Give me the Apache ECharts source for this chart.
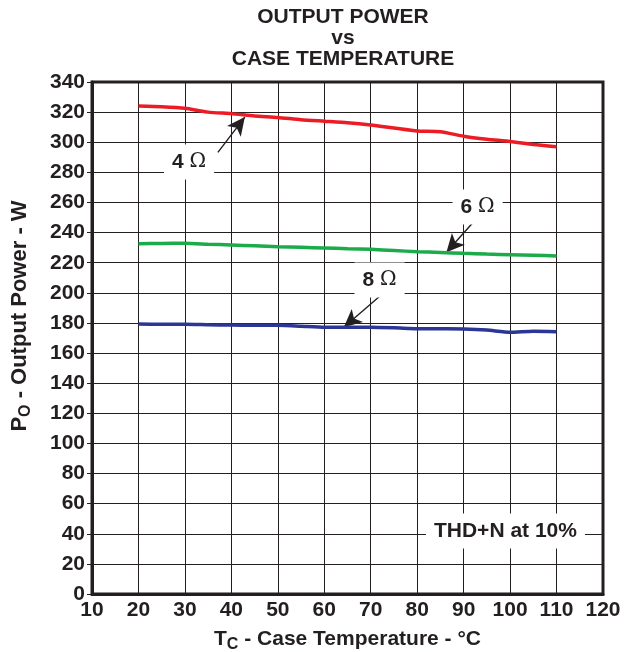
<!DOCTYPE html>
<html>
<head>
<meta charset="utf-8">
<script src="https://cdn.jsdelivr.net/npm/echarts@6/dist/echarts.min.js"></script>
<style>html,body{margin:0;padding:0;background:#fff;}#c{width:633px;height:652px;}</style>
</head>
<body>
<div id="c"></div>
<script>
// Case temperature (°C)
var temps = [20,25,30,35,40,45,50,55,60,65,70,75,80,85,90,95,100,105,110];
// Output power (W)
var power4 = [324,323.5,322.5,320,319,317.5,316.5,315,314,313,311.5,309.5,307.5,307,304,302,300.5,298.5,297];
var power6 = [232.6,232.8,232.9,232.3,231.8,231.2,230.6,230.2,229.8,229.3,228.9,228.1,227.3,226.8,226.2,225.7,225.3,224.9,224.5];
var power8 = [179.3,179.1,179.1,178.8,178.6,178.5,178.4,177.8,177.1,177.1,177.2,176.8,176.2,176.1,176.0,175.3,173.8,174.5,174.2];
// Annotation labels: [x, y] text positions and arrow [tail, tip]
var label4 = [30.9, 286.9], arrow4 = [[37.1, 293.3], [42.9, 316.7]];
var label6 = [93.0, 257.0], arrow6 = [[92.5, 248.4], [86.3, 226.9]];
var label8 = [71.9, 208.5], arrow8 = [[72.5, 199.2], [64.2, 177.1]];
var noteLabel = [99.0, 41.8];

var FONT = '"Liberation Sans", Arial, Helvetica, sans-serif';
var TXT = '#231f20';
var FS = 21;

function pairs(xs, ys) { return xs.map(function (x, i) { return [x, ys[i]]; }); }

function ohmLabel(pos, num) {
  return {
    coord: pos, symbolSize: 0,
    label: {
      show: true, position: 'inside',
      formatter: '{n|' + num + ' }{o|Ω}',
      backgroundColor: '#fff', padding: [7, 8, 7, 8],
      rich: {
        n: { fontFamily: FONT, fontWeight: 'bold', fontSize: FS, color: TXT },
        o: { fontFamily: '"DejaVu Serif", "Liberation Serif", serif', fontWeight: 'normal', fontSize: 20, color: TXT }
      }
    }
  };
}
function arrowLine(a) {
  return [{ coord: a[0] }, { coord: a[1] }];
}
var arrowStyle = {
  silent: true, symbol: ['none', 'arrow'], symbolSize: [13, 18],
  lineStyle: { color: '#231f20', width: 1.4, type: 'solid' },
  label: { show: false }, emphasis: { disabled: true }
};

var chart = echarts.init(document.getElementById('c'), null, { renderer: 'canvas' });
chart.setOption({
  animation: false,
  backgroundColor: '#fff',
  title: {
    text: 'OUTPUT POWER\nvs\nCASE TEMPERATURE',
    left: 343, top: 7, textAlign: 'center', padding: 0,
    textStyle: { fontFamily: FONT, fontWeight: 'bold', fontSize: FS, lineHeight: 21, color: TXT }
  },
  grid: { left: 92, right: 30, top: 82, bottom: 58, show: true, borderColor: '#231f20', borderWidth: 3,
          containLabel: false, outerBoundsMode: 'none' },
  xAxis: {
    type: 'value', min: 10, max: 120, interval: 10,
    name: '{m|T}{s|C}{m| - Case Temperature - °C}', nameLocation: 'middle', nameGap: 24,
    nameTextStyle: {
      rich: {
        m: { fontFamily: FONT, fontWeight: 'bold', fontSize: FS, color: TXT, lineHeight: 24 },
        s: { fontFamily: FONT, fontWeight: 'bold', fontSize: 16, color: TXT, padding: [11, 0, 0, 0], lineHeight: 24 }
      }
    },
    axisLine: { show: true, lineStyle: { color: '#231f20', width: 3 } },
    axisTick: { show: false },
    axisLabel: { margin: 6, fontFamily: FONT, fontWeight: 'bold', fontSize: FS, color: TXT },
    splitLine: { show: true, lineStyle: { color: '#231f20', width: 1 } }
  },
  yAxis: {
    type: 'value', min: 0, max: 340, interval: 20,
    name: '{m|P}{s|O}{m| - Output Power - W}', nameLocation: 'middle', nameGap: 60, nameRotate: 90,
    nameTextStyle: {
      padding: [0, 0, 0, 44],
      rich: {
        m: { fontFamily: FONT, fontWeight: 'bold', fontSize: 22, color: TXT, lineHeight: 24 },
        s: { fontFamily: FONT, fontWeight: 'bold', fontSize: 16, color: TXT, padding: [11, 0, 0, 0], lineHeight: 24 }
      }
    },
    axisLine: { show: true, lineStyle: { color: '#231f20', width: 3 } },
    axisTick: { show: true, length: 5, lineStyle: { color: '#231f20', width: 1 } },
    axisLabel: { margin: 7, fontFamily: FONT, fontWeight: 'bold', fontSize: FS, color: TXT },
    splitLine: { show: true, lineStyle: { color: '#231f20', width: 1 } }
  },
  series: [
    {
      name: '4 Ω', type: 'line', data: pairs(temps, power4), showSymbol: false, smooth: 0.2,
      lineStyle: { color: '#ed1c24', width: 3.5 }, z: 5,
      markLine: Object.assign({ data: [arrowLine(arrow4)] }, arrowStyle),
      markPoint: { silent: true, data: [ohmLabel(label4, '4')] }
    },
    {
      name: '6 Ω', type: 'line', data: pairs(temps, power6), showSymbol: false, smooth: 0.2,
      lineStyle: { color: '#1bab4b', width: 3.5 }, z: 5,
      markLine: Object.assign({ data: [arrowLine(arrow6)] }, arrowStyle),
      markPoint: { silent: true, data: [ohmLabel(label6, '6')] }
    },
    {
      name: '8 Ω', type: 'line', data: pairs(temps, power8), showSymbol: false, smooth: 0.2,
      lineStyle: { color: '#2b3695', width: 3.5 }, z: 5,
      markLine: Object.assign({ data: [arrowLine(arrow8)] }, arrowStyle),
      markPoint: { silent: true, data: [ohmLabel(label8, '8')] }
    },
    {
      name: 'note', type: 'scatter', data: [], silent: true,
      markPoint: {
        silent: true,
        data: [{
          coord: noteLabel, symbolSize: 0,
          label: {
            show: true, position: 'inside', formatter: 'THD+N at 10%',
            backgroundColor: '#fff', padding: [7, 8, 7, 8],
            fontFamily: FONT, fontWeight: 'bold', fontSize: FS, color: TXT
          }
        }]
      }
    }
  ]
});
</script>
</body>
</html>
